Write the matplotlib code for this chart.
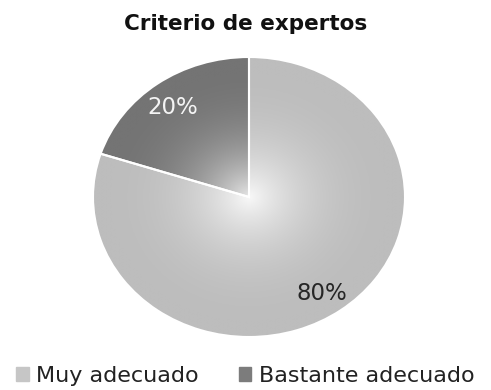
import numpy as np
import matplotlib
matplotlib.use("Agg")
import matplotlib.pyplot as plt
from matplotlib.colors import LinearSegmentedColormap
from matplotlib.patches import Patch

# data
categories = ["Muy adecuado", "Bastante adecuado"]
values = [80, 20]
labels = ["80%", "20%"]

# colours: (centre, edge) of the radial shading for each slice
shades = [("#f8f8f8", "#bdbdbd"), ("#e6e6e6", "#747474")]
label_colors = ["#262626", "#f4f4f4"]
legend_colors = ["#c6c6c6", "#7c7c7c"]

plt.rcParams["font.family"] = ["DejaVu Sans"]

fig = plt.figure(figsize=(4.91, 3.90), dpi=100)
fig.patch.set_facecolor("white")
ax = fig.add_axes([93 / 491, 53 / 390, 312 / 491, 280 / 390])

wedges, _ = ax.pie(values, startangle=90, counterclock=False,
                   wedgeprops=dict(edgecolor="white", linewidth=1.5))
ax.set_aspect("auto")

# radial gradient clipped to each wedge
n = 400
xx, yy = np.meshgrid(np.linspace(-1, 1, n), np.linspace(-1, 1, n))
rr = np.clip(np.hypot(xx, yy), 0, 1)
t = 1 - (1 - rr) ** 2.6
for w, (c0, c1) in zip(wedges, shades):
    cmap = LinearSegmentedColormap.from_list("g", [c0, c1])
    w.set_facecolor("none")
    im = ax.imshow(t, cmap=cmap, vmin=0, vmax=1, extent=(-1, 1, -1, 1),
                   origin="lower", aspect="auto", zorder=0.5, interpolation="bilinear")
    im.set_clip_path(w)
ax.set_xlim(-1, 1)
ax.set_ylim(-1, 1)

# percentage labels
ax.text(0.47, -0.69, labels[0], ha="center", va="center",
        fontsize=16.5, color=label_colors[0], zorder=3)
ax.text(-0.49, 0.64, labels[1], ha="center", va="center",
        fontsize=16.5, color=label_colors[1], zorder=3)

fig.text(0.5, 1 - 24 / 390, "Criterio de expertos", ha="center", va="center",
         fontsize=15.5, fontweight="bold", color="#111111")

handles = [Patch(facecolor=c, edgecolor=c) for c in legend_colors]
fig.legend(handles, categories, loc="center", bbox_to_anchor=(0.5, 1 - 376 / 390),
           ncol=2, frameon=False, fontsize=16, handlelength=0.55, handleheight=0.55,
           handletextpad=0.35, columnspacing=1.8, labelcolor="#222222")

fig.savefig("out.png", dpi=100)
